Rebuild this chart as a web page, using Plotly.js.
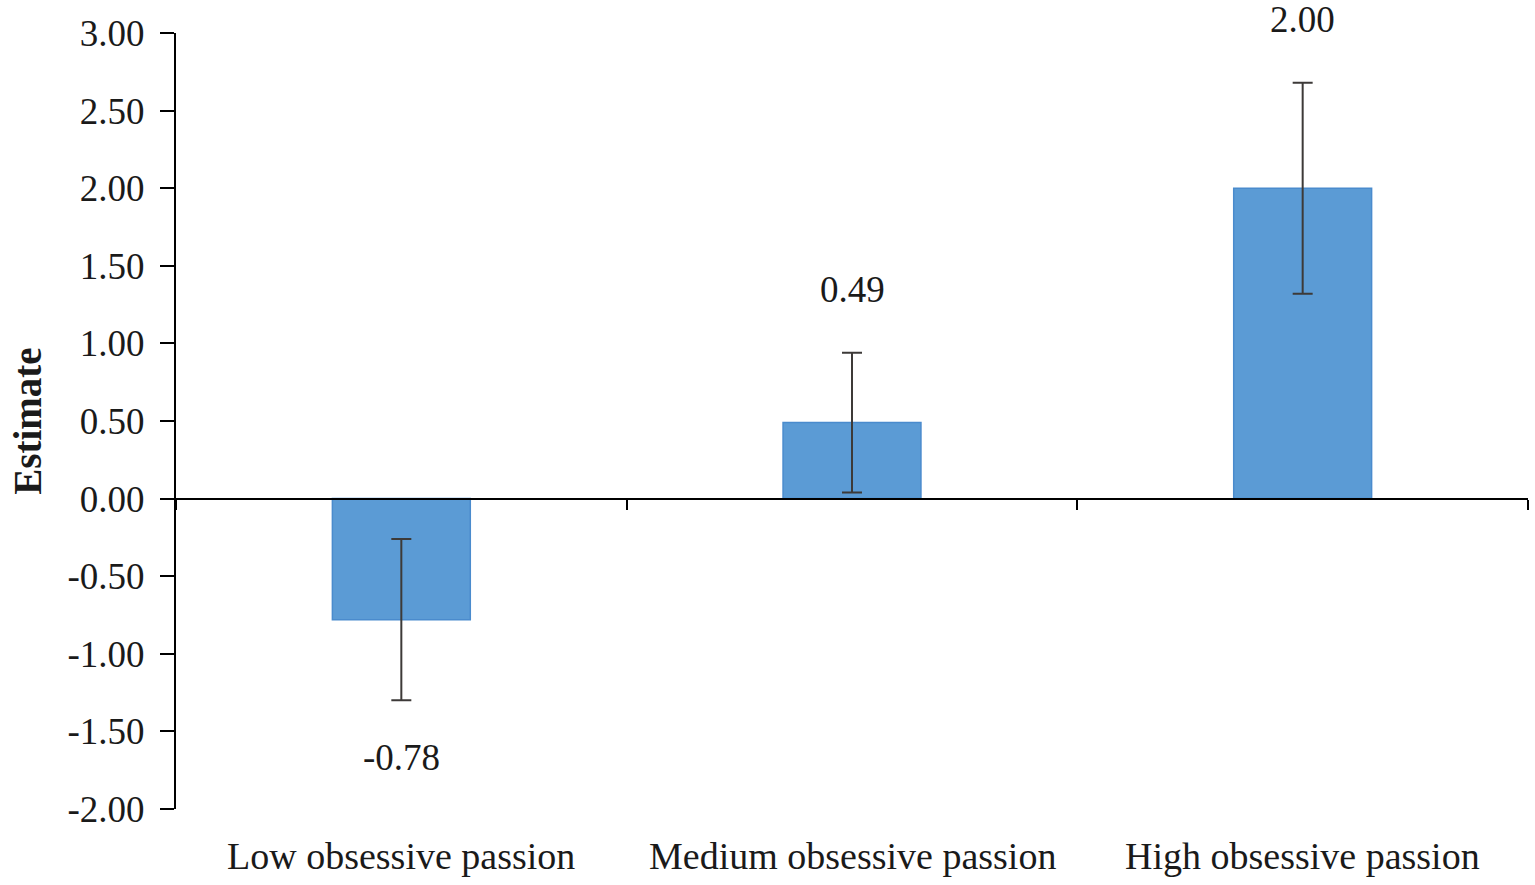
<!DOCTYPE html>
<html>
<head>
<meta charset="utf-8">
<script src="https://cdn.plot.ly/plotly-3.0.1.min.js"></script>
<style>html,body{margin:0;padding:0;background:#fff;}#chart{width:1535px;height:885px;}</style>
</head>
<body>
<div id="chart"></div>
<script>
const categories = ["Low obsessive passion", "Medium obsessive passion", "High obsessive passion"];
const estimates = [-0.78, 0.49, 2.00];
const errors = [0.52, 0.45, 0.68];
const valueLabels = ["-0.78", "0.49", "2.00"];
const yRange = [-2, 3];
const yTickVals = [-2, -1.5, -1, -0.5, 0, 0.5, 1, 1.5, 2, 2.5, 3];
const yTickText = ["-2.00", "-1.50", "-1.00", "-0.50", "0.00", "0.50", "1.00", "1.50", "2.00", "2.50", "3.00"];

const font = "Liberation Serif, Times New Roman, serif";
const zeroPos = (0 - yRange[0]) / (yRange[1] - yRange[0]);

const trace = {
  type: "bar",
  x: categories,
  y: estimates,
  width: 0.306,
  marker: {color: "#5b9bd5", line: {color: "#4a8bcd", width: 1.5}},
  error_y: {type: "data", array: errors, visible: true, color: "#3d3a38", thickness: 2, width: 10},
  hoverinfo: "skip"
};

const annotations = [];
categories.forEach((c, i) => {
  const up = estimates[i] >= 0;
  annotations.push({
    x: c, xref: "x", yref: "y",
    y: up ? estimates[i] + errors[i] : estimates[i] - errors[i],
    text: valueLabels[i], showarrow: false,
    yanchor: "middle", yshift: up ? 63 : -57,
    font: {family: font, size: 37, color: "#1a1a1a"}
  });
  annotations.push({
    x: c, xref: "x", yref: "paper", y: 0,
    text: c, showarrow: false, yanchor: "middle", yshift: -47,
    font: {family: font, size: 38, color: "#1a1a1a"}
  });
});

const layout = {
  width: 1535, height: 885,
  margin: {l: 176, r: 7, t: 33, b: 76},
  paper_bgcolor: "#ffffff", plot_bgcolor: "#ffffff",
  showlegend: false,
  xaxis: {
    type: "category", range: [-0.5, 2.5],
    anchor: "free", position: zeroPos,
    showline: true, linecolor: "#000", linewidth: 2,
    ticks: "outside", tickson: "boundaries", ticklen: 10, tickwidth: 2, tickcolor: "#000",
    showticklabels: false, showgrid: false, zeroline: false
  },
  yaxis: {
    range: yRange, tickmode: "array", tickvals: yTickVals, ticktext: yTickText,
    showline: true, linecolor: "#000", linewidth: 2,
    ticks: "outside", ticklen: 14, tickwidth: 2, tickcolor: "#000",
    ticklabelstandoff: 8,
    showgrid: false, zeroline: false,
    tickfont: {family: font, size: 37, color: "#1a1a1a"},
    title: {text: "<b>Estimate</b>", font: {family: font, size: 39, color: "#1a1a1a"}, standoff: 14}
  },
  annotations: annotations
};

Plotly.newPlot("chart", [trace], layout, {displayModeBar: false, staticPlot: true});
</script>
</body>
</html>
